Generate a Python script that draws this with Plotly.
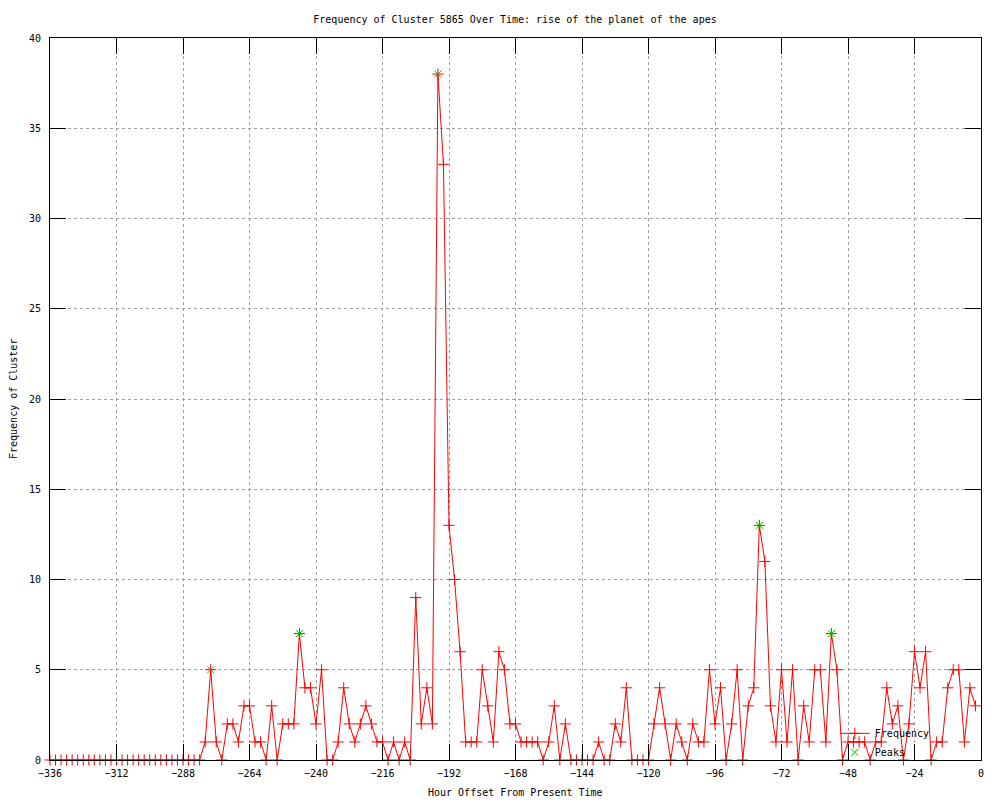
import plotly.graph_objects as go

# Hourly buckets (every 2 hours) relative to now
hours = list(range(-336, 0, 2))

frequency = [
    0, 0, 0, 0, 0, 0, 0, 0, 0, 0, 0, 0, 0, 0,
    0, 0, 0, 0, 0, 0, 0, 0, 0, 0, 0, 0, 0, 0,
    1, 5, 1, 0, 2, 2, 1, 3, 3, 1, 1, 0, 3, 0,
    2, 2, 2, 7, 4, 4, 2, 5, 0, 0, 1, 4, 2, 1,
    2, 3, 2, 1, 1, 0, 1, 0, 1, 0, 9, 2, 4, 2,
    38, 33, 13, 10, 6, 1, 1, 1, 5, 3, 1, 6, 5, 2,
    2, 1, 1, 1, 1, 0, 1, 3, 0, 2, 0, 0, 0, 0,
    0, 1, 0, 0, 2, 1, 4, 0, 0, 0, 0, 2, 4, 2,
    0, 2, 1, 0, 2, 1, 1, 5, 2, 4, 0, 2, 5, 0,
    3, 4, 13, 11, 3, 1, 5, 1, 5, 0, 3, 1, 5, 5,
    1, 7, 5, 0, 1, 1, 1, 1, 0, 1, 1, 4, 2, 3,
    0, 2, 6, 4, 6, 0, 1, 1, 4, 5, 5, 1, 4, 3,
]

peak_hours = [-278, -246, -196, -80, -54]
peak_values = [5, 7, 38, 13, 7]

x_ticks = list(range(-336, 1, 24))
y_ticks = list(range(0, 41, 5))

font_name = "DejaVu Sans Mono"

fig = go.Figure()

fig.add_trace(go.Scatter(
    x=hours, y=frequency, name="Frequency",
    mode="lines+markers",
    line=dict(color="#ff0000", width=1),
    marker=dict(symbol="cross-thin", size=8, color="#ff0000",
                line=dict(color="#ff0000", width=1)),
    cliponaxis=False,
))

fig.add_trace(go.Scatter(
    x=peak_hours, y=peak_values, name="Peaks",
    mode="markers",
    marker=dict(symbol="x-thin", size=7, color="#00c000",
                line=dict(color="#00c000", width=1)),
    cliponaxis=False,
))

axis_style = dict(
    showline=True, linecolor="black", linewidth=1, mirror="ticks",
    ticks="inside", ticklen=16, tickcolor="black", tickwidth=1,
    showgrid=True, gridcolor="#a0a0a0", gridwidth=1, griddash="dot",
    zeroline=False,
    tickfont=dict(family=font_name, size=10, color="black"),
)

fig.update_xaxes(range=[-336, 0], tickvals=x_ticks, ticklabelstandoff=4, **axis_style)
fig.update_yaxes(range=[0, 40], tickvals=y_ticks, ticklabelstandoff=6, **axis_style)

# page body adds an 8px offset, margins compensate for it
fig.update_layout(
    width=1000, height=800,
    margin=dict(l=42, r=27, t=30, b=48),
    paper_bgcolor="white", plot_bgcolor="white",
    font=dict(family=font_name, size=10, color="black"),
    title=dict(text="Frequency of Cluster 5865 Over Time: rise of the planet of the apes",
               x=(515 - 8) / 1000, xanchor="center", y=1 - 11 / 800, yanchor="middle",
               font=dict(family=font_name, size=10)),
    legend=dict(x=0.843, xanchor="left", y=0.057, yanchor="top",
                bgcolor="rgba(0,0,0,0)", font=dict(family=font_name, size=10),
                tracegroupgap=0),
    annotations=[
        dict(text="Hour Offset From Present Time", xref="paper", yref="paper",
             x=0.5, y=-(793 - 760) / 722, xanchor="center", yanchor="middle",
             showarrow=False, font=dict(family=font_name, size=10)),
        dict(text="Frequency of Cluster", xref="paper", yref="paper",
             x=-(50 - 13) / 931, y=0.5, xanchor="center", yanchor="middle",
             textangle=-90, showarrow=False, font=dict(family=font_name, size=10)),
    ],
)

fig.write_html("out.html")
